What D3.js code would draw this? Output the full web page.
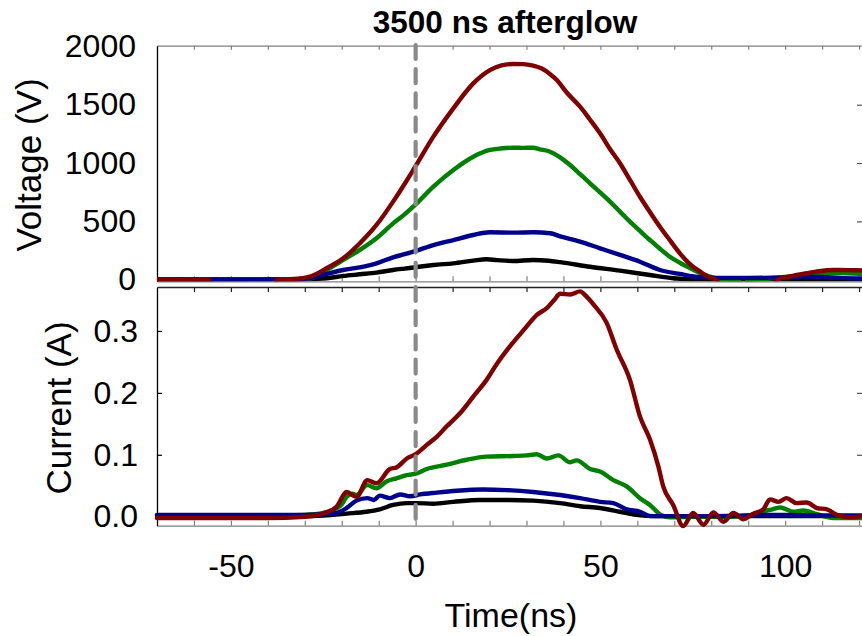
<!DOCTYPE html>
<html><head><meta charset="utf-8">
<script src="https://cdn.jsdelivr.net/npm/d3@7"></script>
<style>
html,body{margin:0;padding:0;background:#fff;}
svg{display:block;font-family:"Liberation Sans",Arial,sans-serif;}
</style></head>
<body><svg id="chart" width="862" height="636"></svg>
<script>
// ---------- data ----------
const titleText = "3500 ns afterglow";
const xTicks = [-50, 0, 50, 100];
const xMinorTicks = [-60,-50,-40,-30,-20,-10,0,10,20,30,40,50,60,70,80,90,100,110,120];
const vTicks = [0, 500, 1000, 1500, 2000];
const iTicks = [0, 0.1, 0.2, 0.3];
const seriesColors = {black:"#000000", blue:"#00008b", green:"#008000", red:"#800000"};

// Voltage (V) vs time (ns)
const timeV_black = [-70,-40,-30,-27,-24.1,-19.6,-15.1,-10.6,-6.1,-3,0,4.8,10.2,15.6,19.2,22,26.4,31.8,36,39.1,47.2,55.3,63.4,69.7,75,90,105,120.8];
const volt_black  = [0,0,2,6,12,32,46,60,83,95,106,126,140,163,175,168,160,169,162,150,111,77,40,12,3,2,3,3];

const timeV_blue = [-70,-50,-35,-30,-27,-24.1,-19.6,-15.1,-10.6,-6.1,-3,0,4.8,10.2,15.6,20.1,26.4,31.8,36.4,39.1,44.5,49.9,55.3,60.7,66.1,71.5,77,82,90,100,105,110,115,120.8];
const volt_blue  = [4,2,3,8,25,49,83,106,140,192,218,246,297,340,383,406,403,406,398,372,326,269,212,154,83,49,21,15,15,20,26,24,15,10];

const timeV_green = [-70,-40,-33,-28.6,-24.1,-19.6,-15.1,-10.6,-6.1,-3,0,4.8,10.2,15.6,20.1,23,26.4,29,31.8,33.6,36.4,39.1,41.8,44.5,47.2,49.9,52.6,55.3,58,60.7,63.4,66.1,68.8,71.5,74.3,77,79.7,82.4,85,87.4,88.7,90,92,95,98,102,106,110,113,117,120.8];
const volt_green  = [0,0,2,10,83,169,255,355,483,560,645,797,940,1054,1112,1125,1131,1130,1131,1118,1097,1049,983,905,826,748,669,583,497,418,340,265,197,145,98,55,26,5,2,-5,-60,-5,2,8,18,30,42,52,58,55,50];

const timeV_red = [-70,-62,-56,-55,-38.2,-37.4,-33,-28.6,-24.1,-19.6,-15.1,-10.6,-6.1,-3,0,4.8,10.2,15.6,20.1,23,26.4,29,31.8,34,36.4,38.2,41,44.5,47,49.9,52.5,55.3,58,60.7,63.4,66.1,69,71.5,74,77,79.5,81.5,82.5,97,98,101,105.8,109,113,117,120.8];
const volt_red  = [2,1,2,-60,-60,2,6,26,98,183,312,469,669,820,975,1226,1469,1683,1797,1835,1849,1848,1835,1812,1762,1712,1600,1483,1380,1255,1125,998,855,711,580,454,330,226,140,69,20,-3,-60,-60,2,25,55,72,83,82,80];

// Current (A) vs time (ns)
const timeI_black = [-70,-30,-25,-18.7,-13.3,-9.7,-6.1,-2.4,0.3,4.8,10.2,17.4,24.6,31.8,39.1,44.5,49.9,55.3,59.6,65,80,100,120.8];
const curr_black  = [0.001,0.001,0.002,0.005,0.008,0.012,0.019,0.022,0.022,0.021,0.024,0.027,0.027,0.026,0.022,0.017,0.014,0.008,0.003,0.001,0.001,0.001,0.001];

const timeI_blue = [-70,-40,-30,-25,-21.4,-18.7,-16,-13.1,-11.3,-9.7,-7,-4.2,-1.5,1.2,5.7,11.1,18.3,24.6,31.8,39.1,44.5,49.9,53.5,57.1,60.7,63.4,70,80,90,95,100,110,120.8];
const curr_blue  = [0.003,0.003,0.003,0.004,0.006,0.014,0.026,0.030,0.027,0.034,0.030,0.036,0.033,0.036,0.039,0.042,0.044,0.043,0.040,0.035,0.030,0.024,0.022,0.012,0.008,0.001,0.001,0.001,0.002,0.003,0.003,0.002,0.002];

const timeI_green = [-70,-40,-30,-25,-22.3,-20,-18.7,-17,-16,-13.1,-10.6,-7.9,-5.2,-2.4,0.3,3,8.4,13.8,19.2,26.4,30,32.8,35.5,38.6,41.8,43.6,47.2,49.9,53.5,57.1,60.7,63.4,66.1,68.8,75,85,90,93.2,95.9,98.6,102.2,104.9,108.6,113,120.8];
const curr_green  = [0.002,0.002,0.003,0.006,0.011,0.020,0.032,0.037,0.035,0.051,0.046,0.057,0.062,0.067,0.070,0.077,0.084,0.092,0.097,0.098,0.099,0.101,0.094,0.099,0.088,0.091,0.077,0.073,0.059,0.049,0.030,0.019,0.004,-0.001,0.000,0.000,0.002,0.008,0.011,0.015,0.008,0.010,0.004,-0.002,-0.002];

const timeI_red = [-70,-40,-30,-25,-21.4,-18.7,-16,-13.1,-10.6,-7,-5.1,-2.4,0,3,5.7,8.4,12,15.6,19.2,22,25.5,28,30,32.8,35.5,37.5,39.1,41.8,44.5,46,48.1,51.7,54.4,58,60.7,63.4,65.7,67,69.7,72.4,75.1,77.9,80.6,83.3,86,88.7,91.4,94.1,95.9,98.2,100.4,103.1,105.8,108.6,111.3,114,117.6,120.8];
const curr_red  = [-0.002,-0.002,0,0.0055,0.016,0.040,0.032,0.059,0.054,0.077,0.080,0.094,0.101,0.116,0.129,0.146,0.167,0.194,0.221,0.247,0.275,0.293,0.307,0.326,0.337,0.350,0.360,0.359,0.364,0.357,0.343,0.313,0.270,0.221,0.162,0.125,0.081,0.049,0.019,-0.015,0.006,-0.013,0.007,-0.008,0.006,-0.004,0.005,0.012,0.028,0.024,0.030,0.022,0.023,0.014,0.012,0.003,-0.001,0.001];

// ---------- drawing ----------
const svg = d3.select("#chart");
const FONT = '"Liberation Sans",Arial,sans-serif';
const x = d3.scaleLinear().domain([-70, 120.8]).range([157, 862]);
const yV = d3.scaleLinear().domain([-14, 2006]).range([281.3, 45.7]);
const yI = d3.scaleLinear().domain([-0.0145, 0.371]).range([525.7, 287]);

const defs = svg.append("defs");
defs.append("clipPath").attr("id","clipV").append("rect")
  .attr("x", 157).attr("y", 45.7).attr("width", 705).attr("height", 281.3-45.7);

const zip = (t, v) => t.map((d, i) => [d, v[i]]);
const gray = "#808080";
const plain = d => String(d);

function styleAxis(g, col){
  g.selectAll("path.domain").attr("stroke", col).attr("stroke-width", 1.3);
  g.selectAll(".tick line").attr("stroke", col).attr("stroke-width", 1.2);
}
function styleText(g){
  g.selectAll("text").attr("font-size", 32).attr("fill","#000").attr("font-family", FONT);
}

// Top panel axes
let g;
g = svg.append("g").attr("transform","translate(0,45.7)")
  .call(d3.axisBottom(x).tickValues(xMinorTicks).tickSize(4).tickSizeOuter(0).tickFormat(""));
styleAxis(g, gray);
g = svg.append("g").attr("transform","translate(0,281.3)")
  .call(d3.axisTop(x).tickValues(xMinorTicks).tickSize(5).tickSizeOuter(0).tickFormat(""));
styleAxis(g, gray);
g = svg.append("g").attr("transform","translate(157,0)")
  .call(d3.axisLeft(yV).tickValues(vTicks).tickSize(0).tickSizeOuter(0).tickPadding(21).tickFormat(plain));
styleAxis(g, "#000");
styleText(g);
g = svg.append("g").attr("transform","translate(862,0)")
  .call(d3.axisRight(yV).tickValues([500,1000,1500]).tickSize(-5).tickSizeOuter(0).tickFormat(""));
styleAxis(g, "#555");
g.select("path.domain").remove();

// Bottom panel axes
g = svg.append("g").attr("transform","translate(0,287)")
  .call(d3.axisBottom(x).tickValues(xMinorTicks).tickSize(5).tickSizeOuter(0).tickFormat(""));
styleAxis(g, "#222");
g = svg.append("g").attr("transform","translate(0,525.7)")
  .call(d3.axisTop(x).tickValues(xMinorTicks).tickSize(5).tickSizeOuter(0).tickFormat(""));
styleAxis(g, gray);
g = svg.append("g").attr("transform","translate(0,525.7)")
  .call(d3.axisBottom(x).tickValues(xTicks).tickSize(0).tickSizeOuter(0).tickPadding(29).tickFormat(plain));
g.select("path.domain").remove();
styleText(g);
g = svg.append("g").attr("transform","translate(157,0)")
  .call(d3.axisLeft(yI).tickValues(iTicks).tickSize(-5).tickSizeOuter(0).tickPadding(19).tickFormat(d3.format(".1f")));
styleAxis(g, "#000");
styleText(g);
g = svg.append("g").attr("transform","translate(862,0)")
  .call(d3.axisRight(yI).tickValues([0.1,0.2,0.3]).tickSize(-5).tickSizeOuter(0).tickFormat(""));
styleAxis(g, "#555");
g.select("path.domain").remove();

// Lines
const lineV = d3.line().x(d => x(d[0])).y(d => yV(d[1])).curve(d3.curveMonotoneX);
const lineI = d3.line().x(d => x(d[0])).y(d => yI(d[1])).curve(d3.curveMonotoneX);

const seriesV = [
  {c: seriesColors.black, d: zip(timeV_black, volt_black)},
  {c: seriesColors.green, d: zip(timeV_green, volt_green)},
  {c: seriesColors.blue,  d: zip(timeV_blue,  volt_blue)},
  {c: seriesColors.red,   d: zip(timeV_red,   volt_red)}
];
const seriesI = [
  {c: seriesColors.black, d: zip(timeI_black, curr_black)},
  {c: seriesColors.green, d: zip(timeI_green, curr_green)},
  {c: seriesColors.blue,  d: zip(timeI_blue,  curr_blue)},
  {c: seriesColors.red,   d: zip(timeI_red,   curr_red)}
];

svg.append("g").attr("clip-path","url(#clipV)")
  .selectAll("path").data(seriesV).join("path")
  .attr("d", s => lineV(s.d)).attr("fill","none").attr("stroke", s => s.c)
  .attr("stroke-width", 4.4).attr("stroke-linecap","round").attr("stroke-linejoin","round");

svg.append("g")
  .selectAll("path").data(seriesI).join("path")
  .attr("d", s => lineI(s.d)).attr("fill","none").attr("stroke", s => s.c)
  .attr("stroke-width", 4.4).attr("stroke-linecap","round").attr("stroke-linejoin","round");

// Dashed vertical line at t = 0
svg.append("line")
  .attr("x1", x(0)).attr("x2", x(0)).attr("y1", 45).attr("y2", 526)
  .attr("stroke", "#8a8a8a").attr("stroke-width", 4.2)
  .attr("stroke-dasharray", "14,10.2").attr("stroke-linecap","round");

// Texts
svg.append("text").attr("x", 505).attr("y", 33).attr("text-anchor","middle")
  .attr("font-size", 31.5).attr("font-weight","bold").text(titleText);
svg.append("text").attr("transform","translate(40.5,165) rotate(-90)").attr("text-anchor","middle")
  .attr("font-size", 35).text("Voltage (V)");
svg.append("text").attr("transform","translate(70.5,408) rotate(-90)").attr("text-anchor","middle")
  .attr("font-size", 35).text("Current (A)");
svg.append("text").attr("x", 511).attr("y", 627).attr("text-anchor","middle")
  .attr("font-size", 34).text("Time(ns)");
</script>
</body></html>
